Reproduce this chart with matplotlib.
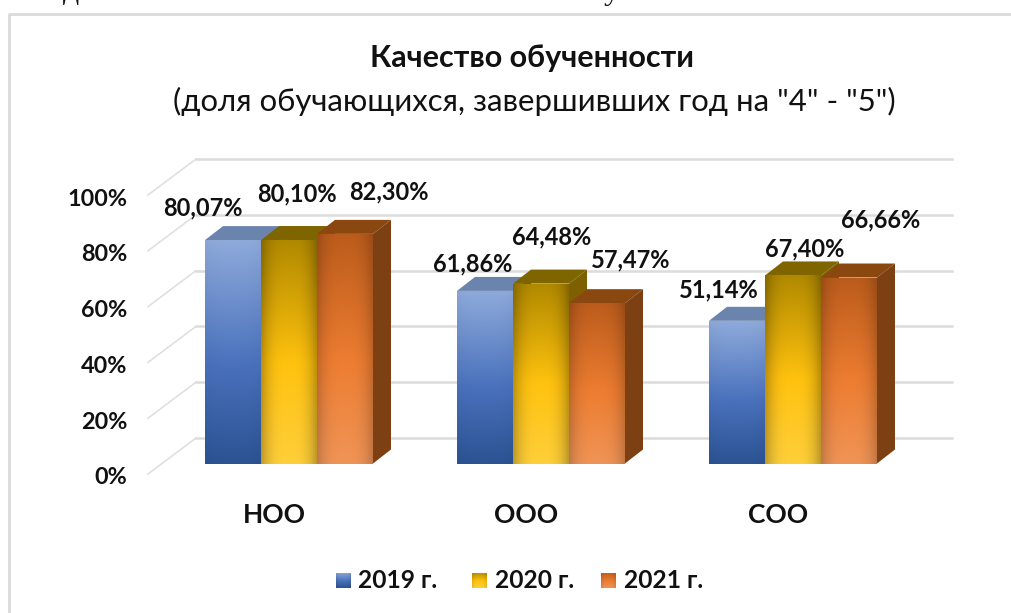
import numpy as np
import matplotlib
matplotlib.use("Agg")
import matplotlib.pyplot as plt
from matplotlib.patches import Polygon
from matplotlib.transforms import ScaledTranslation

categories = ["НОО", "ООО", "СОО"]
years = ["2019 г.", "2020 г.", "2021 г."]
v2019 = [80.07, 61.86, 51.14]
v2020 = [80.10, 64.48, 67.40]
v2021 = [82.30, 57.47, 66.66]
y_ticks = [0, 20, 40, 60, 80, 100]
y_labels = ["0%", "20%", "40%", "60%", "80%", "100%"]

W, H = 1012, 613
plt.rcParams["font.family"] = ["Lato", "DejaVu Sans"]

# gradient stops: top, middle, bottom of each bar
grad = {
    "2019 г.": ["#8eaadb", "#4a72bd", "#2c5393"],
    "2020 г.": ["#b28a00", "#ffc20e", "#ffcf3a"],
    "2021 г.": ["#bc5c1c", "#ed7d31", "#f09456"],
}
side = {"2019 г.": "#2f5597", "2020 г.": "#7f6000", "2021 г.": "#7c4012"}
top = {"2019 г.": "#6a84ae", "2020 г.": "#7f6500", "2021 г.": "#8a4810"}
series = [v2019, v2020, v2021]

fig = plt.figure(figsize=(W / 100, H / 100), dpi=100)
# axes = front plane of the fake 3d box
ax = fig.add_axes([148 / W, 1 - 474 / H, 756 / W, 279 / H])
ax.set_xlim(-0.5, 2.5)
ax.set_ylim(0, 100)
ax.patch.set_alpha(0)
for s in ax.spines.values():
    s.set_visible(False)

px_x = 3 / 756
px_y = 100 / 279


def hex_rgb(c):
    return np.array(matplotlib.colors.to_rgb(c))


def bar_image(stops, edge):
    t = np.linspace(0, 1, 64)
    rows = np.zeros((64, 3))
    for i in range(3):
        rows[:, i] = np.interp(t, [0, 0.55, 1], [hex_rgb(c)[i] for c in stops])
    img = np.repeat(rows[:, None, :], 32, axis=1)
    # darker edges for the cylinder-ish shading
    u = np.abs(np.linspace(-1, 1, 32))
    img = img * (1 - edge * u[None, :, None] ** 3)
    return np.clip(img, 0, 1)


# walls: gridlines on the back and side
back_dx, back_dy = 48 * px_x, 36 * px_y
for t in y_ticks:
    ax.plot([-0.5, -0.5 + back_dx], [t, t + back_dy], color="#e0e0e0", lw=1.2, clip_on=False, zorder=1)
    ax.plot([-0.5 + back_dx, 2.5 + back_dx], [t + back_dy, t + back_dy], color="#dcdcdc", lw=1.8, clip_on=False, zorder=1)

bw = 56 * px_x
bar_dx, bar_dy = 15 * px_x, 10.5 * px_y
dep_x, dep_y = 18 * px_x, 14 * px_y
edges = [0.03, 0.25, 0.18]

# bars go left to right so the later ones overlap
for i, cat in enumerate(categories):
    for j, yr in enumerate(years):
        v = series[j][i]
        x0 = i - 1.5 * bw + j * bw + bar_dx
        y0 = bar_dy
        y1 = v + bar_dy
        z = 3 + j
        ax.add_patch(Polygon([[x0, y1], [x0 + bw, y1], [x0 + bw + dep_x, y1 + dep_y], [x0 + dep_x, y1 + dep_y]],
                             fc=top[yr], ec="none", clip_on=False, zorder=z))
        ax.add_patch(Polygon([[x0 + bw, y0], [x0 + bw + dep_x, y0 + dep_y], [x0 + bw + dep_x, y1 + dep_y], [x0 + bw, y1]],
                             fc=side[yr], ec="none", clip_on=False, zorder=z))
        ax.imshow(bar_image(grad[yr], edges[j]), extent=[x0, x0 + bw, y0, y1], aspect="auto",
                  interpolation="bilinear", zorder=z + 0.5, clip_on=False)
ax.set_xlim(-0.5, 2.5)
ax.set_ylim(0, 100)

# data labels, offsets in px from the bar top centre
label_off = [
    [(-30, 32), (8, 46), (44, 42)],
    [(-12, 27), (11, 47), (34, 43)],
    [(-18, 31), (12, 27), (32, 58)],
]
for i in range(3):
    for j in range(3):
        v = series[j][i]
        x0 = i - 1.5 * bw + j * bw + bar_dx + bw / 2
        ax.annotate(f"{v:.2f}%".replace(".", ","), (x0, v + bar_dy), xytext=label_off[i][j],
                    textcoords="offset pixels", ha="center", va="center", fontsize=17, fontweight="bold",
                    color="#111111", zorder=10, annotation_clip=False)

ax.set_yticks(y_ticks)
ax.set_yticklabels(y_labels, fontsize=16.8, fontweight="bold", color="#111111")
ax.set_xticks(range(3))
ax.set_xticklabels(categories, fontsize=19, fontweight="bold", color="#111111")
ax.tick_params(axis="both", length=0)
ax.tick_params(axis="y", pad=15)
ax.tick_params(axis="x", pad=21)
for lab in ax.get_yticklabels():
    lab.set_transform(lab.get_transform() + ScaledTranslation(0, -2 / 100, fig.dpi_scale_trans))

# chart frame, only left and top are in the crop
fig.add_artist(plt.Line2D([9 / W, 9 / W, 1], [0, 1 - 14 / H, 1 - 14 / H], color="#dadada", lw=2))

# tails of the cut off line of text above the chart
fig.text(71 / W, 1 + 1 / H, "д", ha="center", va="baseline", fontsize=23, family="Liberation Serif", color="#111111")
fig.text(612 / W, 1 + 1 / H, "у", ha="center", va="baseline", fontsize=23, family="Liberation Serif", color="#111111")

fig.text(532 / W, 1 - 58 / H, "Качество обученности", ha="center", va="center", fontsize=22, fontweight="bold", color="#111111")
fig.text(534 / W, 1 - 101 / H, '(доля обучающихся, завершивших год на "4" - "5")', ha="center", va="center", fontsize=22.4, color="#111111")

# legend
for name, xs, xt in zip(years, [336, 472, 601], [358, 495, 624]):
    lax = fig.add_axes([xs / W, 1 - 588 / H, 15 / W, 15 / H])
    lax.imshow(bar_image(grad[name], 0.1), aspect="auto")
    lax.axis("off")
    fig.text(xt / W, 1 - 581 / H, name, ha="left", va="center", fontsize=17.7, fontweight="bold", color="#111111")

fig.savefig("out.png", dpi=100)
